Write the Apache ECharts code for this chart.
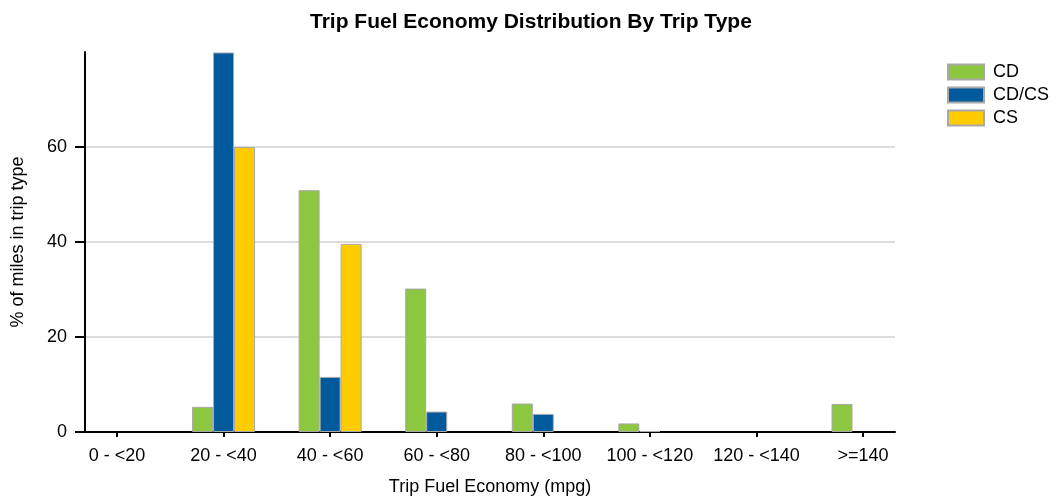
<!DOCTYPE html>
<html>
<head>
<meta charset="utf-8">
<script src="https://cdn.jsdelivr.net/npm/echarts@6/dist/echarts.min.js"></script>
<style>
html,body{margin:0;padding:0;background:#fff;}
#chart{width:1052px;height:496px;}
</style>
</head>
<body>
<div id="chart"></div>
<script>
const categories = ['0 - <20', '20 - <40', '40 - <60', '60 - <80', '80 - <100', '100 - <120', '120 - <140', '>=140'];
const cdValues = [0, 5.3, 50.9, 30.2, 6.0, 1.8, 0, 5.9];
const cdcsValues = [0, 79.9, 11.6, 4.3, 3.8, 0.2, 0, 0];
const csValues = [0, 60.0, 39.6, 0, 0, 0, 0, 0];
const yTicks = [0, 20, 40, 60];
const seriesNames = ['CD', 'CD/CS', 'CS'];
const seriesColors = ['#8DC63F', '#005A9C', '#FFCC00'];

const FONT = 'Liberation Sans, Arial, sans-serif';
const chart = echarts.init(document.getElementById('chart'));
const tickIdx = categories.map((c, i) => i);
const toData = vals => vals.map((v, i) => [i, v === 0 ? null : v]);

const allValues = [cdValues, cdcsValues, csValues];
const series = seriesNames.map((name, k) => ({
  name: name,
  type: 'bar',
  data: toData(allValues[k]),
  barWidth: 21,
  barGap: '0%',
  itemStyle: { color: seriesColors[k], borderColor: '#a8a8a8', borderWidth: 1 }
}));

chart.setOption({
  animation: false,
  backgroundColor: '#fff',
  title: {
    text: 'Trip Fuel Economy Distribution By Trip Type',
    left: 305,
    top: 7,
    textStyle: { fontFamily: FONT, fontSize: 21, fontWeight: 'bold', color: '#000' }
  },
  legend: {
    orient: 'vertical',
    left: 942,
    top: 58,
    icon: 'rect',
    itemWidth: 36,
    itemHeight: 15,
    itemGap: 5,
    textStyle: { fontFamily: FONT, fontSize: 18, color: '#000', padding: [0, 0, 0, 4] },
    data: seriesNames
  },
  grid: { left: 85, right: 157, top: 52, bottom: 64, containLabel: false, outerBoundsMode: 'none' },
  xAxis: {
    type: 'value',
    min: -0.3,
    max: 7.3,
    name: 'Trip Fuel Economy (mpg)',
    nameLocation: 'middle',
    nameGap: 46,
    nameTextStyle: { fontFamily: FONT, fontSize: 18, color: '#000' },
    axisLine: { show: true, onZero: false, lineStyle: { color: '#000', width: 2 } },
    axisTick: { show: true, length: 5, customValues: tickIdx, lineStyle: { color: '#000', width: 2 } },
    axisLabel: {
      customValues: tickIdx,
      formatter: v => categories[Math.round(v)],
      fontFamily: FONT, fontSize: 18, color: '#000', margin: 15
    },
    splitLine: { show: false }
  },
  yAxis: {
    type: 'value',
    min: 0,
    max: 80,
    interval: 20,
    name: '% of miles in trip type',
    nameLocation: 'middle',
    nameGap: 58,
    nameTextStyle: { fontFamily: FONT, fontSize: 18, color: '#000' },
    axisLine: { show: true, onZero: false, lineStyle: { color: '#000', width: 2 } },
    axisTick: { show: true, length: 10, customValues: yTicks, lineStyle: { color: '#000', width: 2 } },
    axisLabel: { customValues: yTicks, fontFamily: FONT, fontSize: 18, color: '#000', margin: 18 },
    splitLine: { show: true, showMinLine: false, showMaxLine: true, lineStyle: { color: '#dcdcdc', width: 2 } }
  },
  series: series
});
</script>
</body>
</html>
